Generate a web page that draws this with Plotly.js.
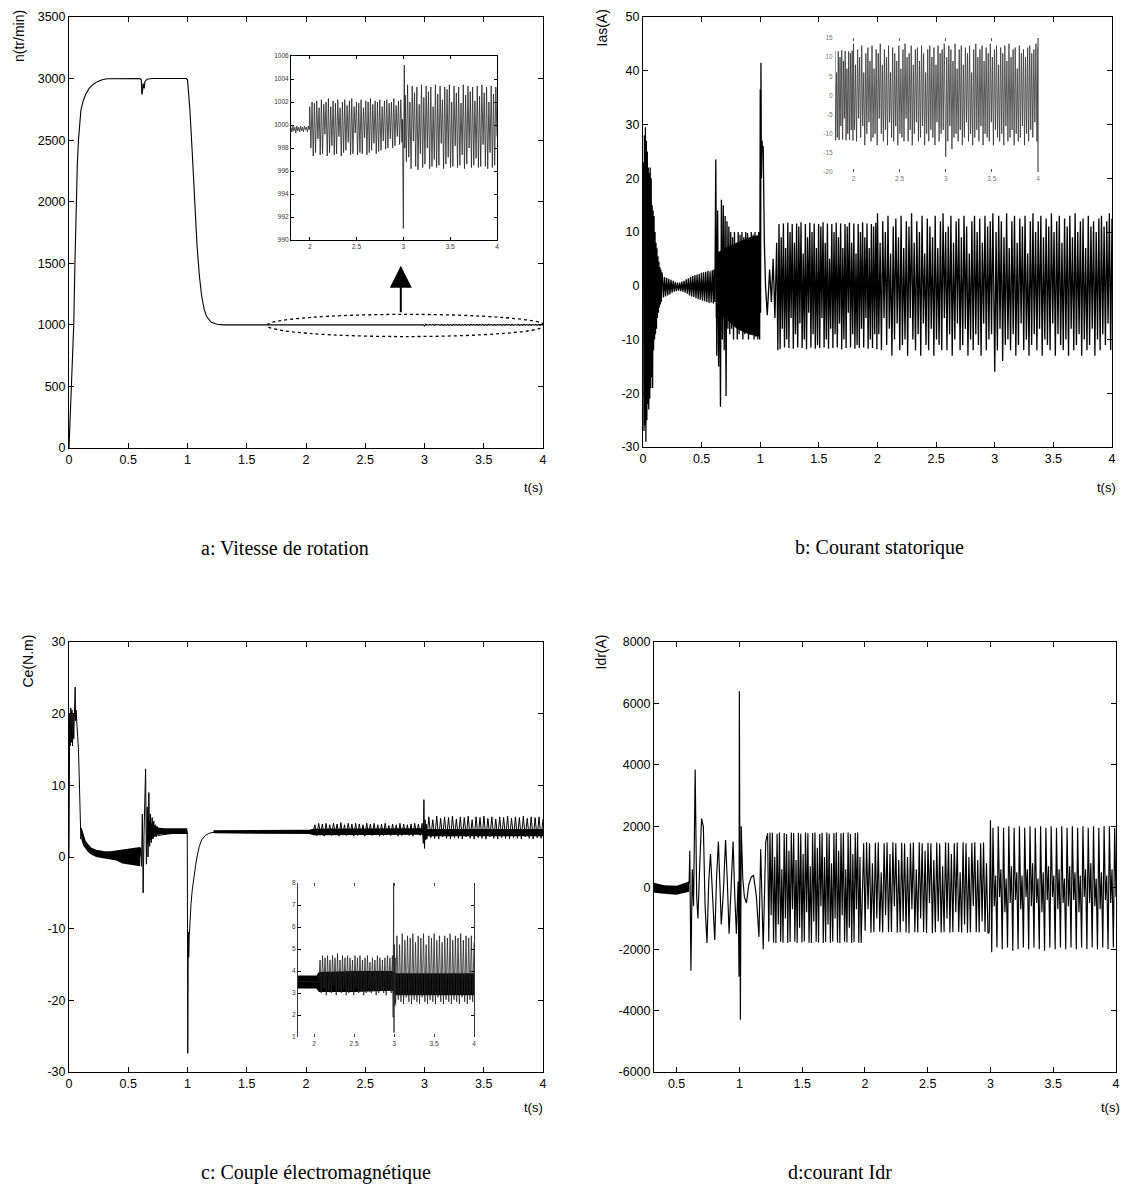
<!DOCTYPE html>
<html><head><meta charset="utf-8">
<script src="https://cdn.plot.ly/plotly-3.0.1.min.js"></script>
<style>html,body{margin:0;padding:0;background:#fff}#c{width:1130px;height:1187px}</style>
</head><body><div id="c"></div>
<script>
// ---------- Panel a : speed n (tr/min) ----------
const A_T = [0,0.005,0.01,0.02,0.03,0.04,0.05,0.06,0.07,0.08,0.09,0.1,0.12,0.14,0.17,0.2,0.24,0.28,0.32,0.6,0.61,0.615,0.62,0.625,0.63,0.635,0.64,0.65,0.66,0.7,0.99,1.0,1.02,1.04,1.06,1.08,1.1,1.12,1.14,1.16,1.2,1.25,1.3];
const A_V = [0,100,250,500,750,1000,1500,2000,2300,2500,2650,2740,2820,2870,2920,2950,2975,2990,2998,3000,2990,2870,2890,2960,2930,2920,2975,2985,2995,3000,3000,2990,2750,2400,2000,1650,1400,1230,1130,1070,1020,1005,1000];
const A_FINE1 = [999.8,999.4,999.9,999.5,999.8,999.3,999.9,999.5,999.8,999.4,999.9,999.5,999.8,999.4,999.9,999.6,999.8,999.4,999.9,999.6];
const A_FINE2 = [1001.6,998.0,1002.0,997.3,1001.9,997.6,1002.1,998.8,1001.5,997.4,1002.2,997.5,1001.8,999.2,1002.0,997.3,1002.3,997.6,1001.6,998.2,1002.1,997.4,1001.9,997.5,1002.2,999.0,1001.5,997.3,1002.0,997.6,1002.2,997.8,1001.7,998.5,1002.1,997.4,1002.3,997.5,1001.6,999.3,1002.0,997.4,1001.9,997.6,1002.2,997.5,1001.5,998.9,1002.1,997.4,1002.0,997.6,1002.3,997.8,1001.8,998.4,1002.1,997.5,1002.0,997.7,1002.2,997.8,1001.6,998.6,1002.1,997.9,1002.2,998.0,1001.9,998.8,1002.0,998.0,1002.3,998.2,1001.7,999.0,1002.1,998.3,1002.2,998.5];
const A_JUMP_T = [2.99,3.0,3.005,3.01,3.015];
const A_JUMP_V = [1000.5,991,1000,1005.2,998];
const A_FINE3 = [1002.6,996.8,1003.5,997.2,1002.0,996.2,1003.4,998.6,1002.8,996.4,1003.3,996.1,1001.8,997.5,1003.5,996.3,1002.4,996.6,1003.4,998.0,1002.9,996.2,1003.3,996.4,1001.6,997.0,1003.5,996.3,1002.7,996.5,1003.4,998.4,1002.2,996.2,1003.3,996.6,1003.1,997.2,1003.5,996.3,1002.0,996.4,1003.4,998.2,1002.8,996.3,1003.3,996.5,1001.9,997.4,1003.5,996.2,1002.6,996.6,1003.4,998.0,1002.9,996.3,1003.3,996.5,1002.1,997.1,1003.4,996.3,1002.5,996.4,1003.5,998.3,1002.8,996.4,1003.3,996.2,1002.0,997.6,1003.4,996.3,1002.7,996.5,1003.3,999.0];

// ---------- Panel b : stator current Ias (A) ----------
const B_START = [0,23,-27,28,-26,29.5,-29,27,-25,25,-22,22,-23,21,-21,22,-19,20,-17,15,-19,14,-12,13,-10,10,-9,8,-8,7,-6,5.5,-5,4.5,-4,3.5,-3.5,3,-3,2.5];
const B_LOW = [2,-2.2,1.6,-2,1.5,-1.8,1.3,-1.6,1.1,-1.3,0.9,-1.1,0.7,-1,0.6,-0.9,0.6,-1,0.8,-1.1,0.9,-1.3,1.2,-1.5,1.4,-1.8,1.6,-2,1.8,-2.1,2,-2.3,2.1,-2.5,2.2,-2.6,2.4,-2.8,2.5,-2.9,2.6,-3,2.8,-3.2,2.7,-3.1,2.9,-3.3];
const B_MID = [3,-3,23.5,-13,14,-15,5,-22.5,16,-10,15,-12,13,-20.5,12,-8,11,-9,10,-8,9,-10,10,-7,8,-10,10,-9,9.5,-8,10,-10,9,-9,10,-8,9.8,-10,8,-9,10,-9,9.5,-10,10,-9.5,9,-10,10,-10];
const B_BAND_T = [0.62,0.7,0.8,0.9,0.995];
const B_BAND_HI = [6,7,8,9,9.5];
const B_BAND_LO = [-6,-6,-8,-9,-9.5];
const B_JUMP_T = [1.0,1.003,1.006,1.01,1.015,1.02,1.025,1.03,1.035,1.045,1.06,1.08,1.095,1.11,1.125,1.14,1.15];
const B_JUMP_V = [36.5,-5,41.5,20,27,25,26,12,8,0,-5.5,3,-3,5,-6,8,-12];
const B_R = [11.5,-11.8,9,-8,11.6,-11.5,7,-10,11.7,-11.6,10,-6,11.5,-11.7,8,-9,11.6,-11.5,11,-7,11.8,-11.6,6,-10,11.5,-11.8,9,-5,11.7,-11.5,10,-9,11.6,-11.7,7,-11,11.5,-11.6,11,-6,11.8,-11.5,8,-10,11.6,-11.7,5,-8,11.5,-11.6,10,-9,11.7,-11.5,9,-7,11.6,-11.8,7,-10,11.5,-11.6,11,-5,11.7,-11.5,8,-9,11.6,-11.7,6,-11,11.5,-11.6,10,-8,11.8,-11.5,9,-6,11.6,-11.7,7,-10,11.5,-11.6,11,-9,11.7,-11.8];
const B_L1 = [13.5,-9,8,-12,12,-6,10,-11,13,-8,6,-13,11,-10,12.5,-7,9,-12,13,-11,7,-10,12,-13,11,-6,13.5,-10,8,-12,12,-9,10,-13,13,-7,6,-11,12.5,-12,11,-8,9,-13,13,-10,7,-11,12,-12,13.5,-6,10,-12,11,-9,13,-13,8,-10,12,-7,12.5,-12,9,-11,13,-8,11,-13,6,-10,12,-12,13,-9,10,-11,12.5,-13,8,-7,13,-12,11,-10,12,-9,13.5,-14];
const B_L2 = [-16,10,-12,13,-8,12,-14,9,-11,13.5,-10,7,-12,12,-9,13,-13,8,-11,12.5,-7,11,-12,13,-10,6,-13,12,-11,13.5,-9,10,-12,12,-8,13,-13,9,-10,12.5,-11,11,-12,13.5,-7,10,-13,12,-9,13,-11,8,-12,12.5,-10,11,-13,13,-8,9,-12,13.5,-11,10,-9,12,-13,12.5,-10,7,-12,13,-11,11,-8,12,-13,10,-10,12.5,-12,13,-9,11,-11,12,-7,13.5,-12,12.5];

// ---------- Panel c : torque Ce (N.m) ----------
const C_T0 = [0,0.003,0.006,0.01,0.015,0.02,0.025,0.03,0.035,0.04,0.045,0.052,0.056,0.06,0.065,0.07,0.075,0.08,0.085,0.09,0.095,0.1,0.105,0.11,0.12,0.14,0.17,0.2,0.25,0.3,0.4,0.5,0.6];
const C_V0 = [0,5,20,15.5,20.8,16,20.5,15.5,20,16.5,21,23.7,19,20.5,19,18,16.5,15,12,8,4.5,2.5,4,3,2.4,1.7,1.1,0.7,0.4,0.3,0.2,0.1,0.05];
const C_BAND1_T = [0.105,0.12,0.14,0.16,0.19,0.23,0.3,0.35,0.4,0.45,0.5,0.55,0.6];
const C_BAND1_HI = [4.2,3.2,2.3,1.8,1.3,1.0,0.8,0.8,0.9,1.0,1.1,1.25,1.4];
const C_BAND1_LO = [2.4,1.6,1.1,0.7,0.3,0.0,-0.2,-0.3,-0.5,-0.9,-1.0,-1.15,-1.3];
const C_M = [1.3,-1.3,6,-5,3,7,12.3,-1,7,0,9,1.5,6,2,5.5,2.5,5,3,4.5,2.8,4.3,3];
const C_BAND2_T = [0.66,0.7,0.75,0.8,0.998];
const C_BAND2_HI = [5.5,4.6,4.1,4.0,4.0];
const C_BAND2_LO = [1.8,2.6,3.1,3.2,3.2];
const C_T1 = [0.998,1.0,1.002,1.004,1.006,1.008,1.01,1.015,1.02,1.025,1.03,1.04,1.05,1.06,1.07,1.08,1.09,1.1,1.12,1.15,1.18,1.22,1.26,1.3];
const C_V1 = [3.6,-10,-27.4,-16.7,-13,-10.5,-14,-11,-9,-8,-6.5,-4.6,-3.2,-2,-1,0,0.8,1.5,2.4,3.0,3.3,3.5,3.6,3.6];
const C_BAND3_T = [1.22,1.5,1.8,2.03,2.06,2.5,2.98,3.02,3.5,4.0];
const C_BAND3_HI = [3.75,3.8,3.8,3.8,3.95,4.0,4.0,3.9,3.9,3.9];
const C_BAND3_LO = [3.3,3.25,3.2,3.2,3.05,3.05,3.1,2.9,2.9,2.9];
const C_S1 = [3.5,4.5,3.0,4.7,3.2,4.6,2.9,4.7,3.1,4.5,3.0,4.7,3.3,4.6,2.9,4.8,3.1,4.5,3.0,4.7,3.2,4.6,2.9,4.7,3.0,4.6,3.1,4.5,2.9,4.7,3.2,4.6,3.0,4.7,3.1,4.5,2.9,4.6,3.0,4.7,3.2,4.4,3.0,4.6,3.1,4.5,2.9,4.7,3.0,4.6,3.1,4.5,3.0,4.6,2.9,4.7,3.2,4.6,3.0,4.7];
const C_JUMP_T = [2.985,2.99,2.995,3.0,3.005,3.01,3.015];
const C_JUMP_V = [3.4,1.9,8,1.2,5.2,2.4,4.6];
const C_S2 = [2.5,5.6,2.7,5.2,2.6,5.7,2.5,5.4,2.8,5.6,2.6,5.5,2.5,5.7,2.7,5.3,2.6,5.6,2.5,5.5,2.8,5.7,2.6,5.2,2.5,5.6,2.7,5.5,2.6,5.7,2.5,5.4,2.8,5.6,2.6,5.3,2.5,5.6,2.7,5.5,2.6,5.7,2.5,5.4,2.7,5.6,2.6,5.5,2.5,5.7,2.8,5.4,2.6,5.6,2.5,5.5,2.7,5.6,2.6,5.3];

// ---------- Panel d : rotor current Idr (A) ----------
const D_BAND_T = [0.32,0.4,0.5,0.6];
const D_BAND_HI = [160,80,60,200];
const D_BAND_LO = [-160,-200,-230,-130];
const D_T0 = [0.6,0.605,0.614,0.625,0.635,0.648,0.66,0.67,0.685,0.699,0.713,0.727,0.742,0.756,0.77,0.787,0.804,0.818,0.833,0.845,0.856,0.873,0.89,0.904,0.918,0.934,0.95,0.963,0.976,0.99,0.997,1.0,1.003,1.008,1.015,1.027,1.04,1.056,1.075,1.095,1.113,1.136,1.156,1.17,1.19,1.21];
const D_V0 = [150,1200,-2700,600,-600,3850,-300,-1000,800,2250,2000,-600,-1800,200,1100,-400,-1700,300,1500,100,-1200,-100,1550,200,-1500,0,1500,-200,-1500,200,-2900,6400,-800,-4300,2000,300,-300,-500,100,350,400,-300,-1600,1250,-2000,1500];
const D_R1 = [1780,-1750,1800,-900,1790,-1780,1000,-1800,1760,-1200,1800,-1760,600,-1790,1780,-1000,1750,-1800,1200,-1770,1800,-700,1780,-1760,900,-1800,1790,-1300,1760,-1780,1100,-1750,1800,-800,1770,-1790,700,-1800,1780,-1100,1800,-1760,1300,-1780,1750,-600,1790,-1800,1000,-1770,1800,-1200,1760,-1790,800,-1750,1780,-1000,1800,-1780,1200,-1800,1770,-900,1790,-1760,600,-1780,1800,-1300,1750,-1800,1100,-1770,1780,-700,1800,-1790,1000,-1800];
const D_R2 = [1450,-1400,1480,-700,1450,-1470,800,-1450,1460,-1000,1480,-1430,500,-1460,1450,-900,1470,-1450,1100,-1440,1480,-600,1450,-1470,900,-1450,1460,-1100,1440,-1460,1000,-1480,1450,-700,1470,-1450,600,-1460,1480,-1000,1450,-1440,1200,-1470,1460,-500,1450,-1480,900,-1450,1470,-1100,1440,-1460,700,-1450,1480,-1000,1460,-1470,1100,-1450,1450,-800,1470,-1440,500,-1460,1480,-1200,1450,-1470,1000,-1450,1460,-600,1480,-1450,900,-1460,1450,-1100,1470,-1440,800,-1480];
const D_JUMP_T = [2.99,3.0,3.01];
const D_JUMP_V = [-1450,2200,-2100];
const D_R3 = [1950,-600,400,-1950,2000,-300,600,-2000,1950,-800,300,-1950,2000,-500,700,-2050,1950,-400,500,-2000,2000,-700,400,-1950,1950,-300,600,-2000,2000,-600,800,-1950,1950,-500,300,-2000,2000,-800,500,-2050,1950,-400,700,-1950,2000,-300,400,-2000,1950,-700,600,-1950,2000,-500,300,-2000,1950,-600,700,-1950,2000,-400,500,-2000,1950,-800,400,-1950,2000,-300,600,-2000,1950,-500,800,-1950,2000,-600,300,-2000,1950,-700,500,-1950,2000,-400,400,-2000,2000,-500,600,-1950,1950,-300];

// ---------- tick values / labels ----------
const X_TICKS = [0,0.5,1,1.5,2,2.5,3,3.5,4];
const XD_TICKS = [0.5,1,1.5,2,2.5,3,3.5,4];
const IN_X_TICKS = [2,2.5,3,3.5,4];
const YA_TICKS = [0,500,1000,1500,2000,2500,3000,3500];
const YB_TICKS = [-30,-20,-10,0,10,20,30,40,50];
const YB_LABELS = ['-30','-20','-10','0','10','20','30','40','50'];
const YC_TICKS = [-30,-20,-10,0,10,20,30];
const YC_LABELS = ['-30','-20','-10','0','10','20','30'];
const YD_TICKS = [-6000,-4000,-2000,0,2000,4000,6000,8000];
const YD_LABELS = ['-6000','-4000','-2000','0','2000','4000','6000','8000'];
const YIA_TICKS = [990,992,994,996,998,1000,1002,1004,1006];
const YIB_TICKS = [-20,-15,-10,-5,0,5,10,15];
const YIB_LABELS = ['-20','-15','-10','-5','0','5','10','15'];
const YIC_TICKS = [1,2,3,4,5,6,7,8];

// ---------- helpers ----------
const W = 1130, H = 1187;
const px = x => x / W, py = y => 1 - y / H;
function seg(t0, t1, vals) { const n = vals.length; return vals.map((v, i) => t0 + (t1 - t0) * i / (n - 1)); }
function join(parts) { const x = [], y = []; parts.forEach(p => { x.push(...p[0]); y.push(...p[1]); }); return {x, y}; }
function band(t, hi, lo) { return {x: t.concat(t.slice().reverse()), y: hi.concat(lo.slice().reverse())}; }

const aS = join([[A_T, A_V], [seg(1.8, 1.995, A_FINE1), A_FINE1], [seg(2.0, 2.985, A_FINE2), A_FINE2], [A_JUMP_T, A_JUMP_V], [seg(3.02, 4.0, A_FINE3), A_FINE3]]);
const bS = join([[seg(0, 0.16, B_START), B_START], [seg(0.165, 0.6, B_LOW), B_LOW], [seg(0.605, 0.995, B_MID), B_MID], [B_JUMP_T, B_JUMP_V], [seg(1.16, 1.995, B_R), B_R], [seg(2.0, 2.995, B_L1), B_L1], [seg(3.0, 4.0, B_L2), B_L2]]);
const bB = band(B_BAND_T, B_BAND_HI, B_BAND_LO);
const cS = join([[C_T0, C_V0], [seg(0.605, 0.75, C_M), C_M], [C_T1, C_V1], [seg(2.06, 2.98, C_S1), C_S1], [C_JUMP_T, C_JUMP_V], [seg(3.02, 4.0, C_S2), C_S2]]);
const cB1 = band(C_BAND1_T, C_BAND1_HI, C_BAND1_LO);
const cB2 = band(C_BAND2_T, C_BAND2_HI, C_BAND2_LO);
const cB3 = band(C_BAND3_T, C_BAND3_HI, C_BAND3_LO);
const dS = join([[D_T0, D_V0], [seg(1.225, 1.97, D_R1), D_R1], [seg(1.99, 2.98, D_R2), D_R2], [D_JUMP_T, D_JUMP_V], [seg(3.02, 4.0, D_R3), D_R3]]);
const dB = band(D_BAND_T, D_BAND_HI, D_BAND_LO);

function line(s, xa, ya, w, col) { return {type: 'scatter', mode: 'lines', x: s.x, y: s.y, xaxis: xa, yaxis: ya, line: {color: col || '#000', width: w || 1}, hoverinfo: 'skip'}; }
function fillT(s, xa, ya) { return {type: 'scatter', mode: 'lines', x: s.x, y: s.y, xaxis: xa, yaxis: ya, fill: 'toself', fillcolor: '#000', line: {width: 0, color: '#000'}, hoverinfo: 'skip'}; }

const data = [
  line(aS, 'x', 'y', 1.1),
  fillT(bB, 'x2', 'y2'), line(bS, 'x2', 'y2', 1.3),
  fillT(cB1, 'x3', 'y3'), fillT(cB2, 'x3', 'y3'), fillT(cB3, 'x3', 'y3'), line(cS, 'x3', 'y3', 1),
  fillT(dB, 'x4', 'y4'), line(dS, 'x4', 'y4', 1.15),
  line(aS, 'x5', 'y5', 0.8, '#222'),
  line(bS, 'x6', 'y6', 0.8, '#333'),
  fillT(cB3, 'x7', 'y7'), line(cS, 'x7', 'y7', 0.8, '#222')
];

const TF = 'Liberation Sans, Arial, sans-serif';
function mainAx(domain, range, extra) {
  return Object.assign({domain: domain, range: range, showline: true, linecolor: '#000', linewidth: 1, mirror: 'ticks', ticks: 'inside', ticklen: 5, tickcolor: '#000', showgrid: false, zeroline: false, fixedrange: true, tickfont: {family: TF, size: 12.5, color: '#000'}}, extra || {});
}
function inAx(domain, range, extra) {
  return Object.assign({domain: domain, range: range, showline: true, linecolor: '#000', linewidth: 1, mirror: 'ticks', ticks: 'inside', ticklen: 3, tickcolor: '#000', showgrid: false, zeroline: false, fixedrange: true, tickfont: {family: TF, size: 6.5, color: '#333'}}, extra || {});
}
const dx = (a, b) => [px(a), px(b)], dy = (t, b) => [py(b), py(t)];
const labF = {family: TF, size: 14, color: '#000'};
const tF = {family: TF, size: 13, color: '#000'};
const subF = {family: 'Liberation Serif, Times New Roman, serif', size: 20, color: '#000'};
function ann(x, y, text, font, extra) { return Object.assign({xref: 'paper', yref: 'paper', x: px(x), y: py(y), text: text, showarrow: false, xanchor: 'center', yanchor: 'middle', font: font}, extra || {}); }

const layout = {
  width: W, height: H, margin: {l: 0, r: 0, t: 0, b: 0}, showlegend: false,
  paper_bgcolor: '#fff', plot_bgcolor: 'rgba(0,0,0,0)', hovermode: false,
  xaxis: mainAx(dx(69, 543), [0, 4], {anchor: 'y', tickvals: X_TICKS}),
  yaxis: mainAx(dy(17, 448), [0, 3500], {anchor: 'x', tickvals: YA_TICKS}),
  xaxis2: mainAx(dx(643, 1112), [0, 4], {anchor: 'y2', tickvals: X_TICKS}),
  yaxis2: mainAx(dy(17, 447), [-30, 50], {anchor: 'x2', tickvals: YB_TICKS, ticktext: YB_LABELS}),
  xaxis3: mainAx(dx(69, 543), [0, 4], {anchor: 'y3', tickvals: X_TICKS}),
  yaxis3: mainAx(dy(642, 1072), [-30, 30], {anchor: 'x3', tickvals: YC_TICKS, ticktext: YC_LABELS}),
  xaxis4: mainAx(dx(654, 1116), [0.32, 4], {anchor: 'y4', tickvals: XD_TICKS}),
  yaxis4: mainAx(dy(642, 1072), [-6000, 8000], {anchor: 'x4', tickvals: YD_TICKS, ticktext: YD_LABELS}),
  xaxis5: inAx(dx(291, 497), [1.8, 4], {anchor: 'y5', tickvals: IN_X_TICKS}),
  yaxis5: inAx(dy(56, 240), [990, 1006], {anchor: 'x5', tickvals: YIA_TICKS}),
  xaxis6: inAx(dx(835, 1038), [1.8, 4], {anchor: 'y6', tickvals: IN_X_TICKS, linecolor: 'rgba(0,0,0,0)', tickcolor: '#555', tickfont: {family: TF, size: 6.5, color: '#777'}}),
  yaxis6: inAx(dy(38, 172), [-20, 15], {anchor: 'x6', tickvals: YIB_TICKS, ticktext: YIB_LABELS, linecolor: 'rgba(0,0,0,0)', ticks: '', mirror: false, tickfont: {family: TF, size: 6.5, color: '#777'}}),
  xaxis7: inAx(dx(298, 474), [1.8, 4], {anchor: 'y7', tickvals: IN_X_TICKS, linecolor: 'rgba(0,0,0,0)', tickcolor: '#444'}),
  yaxis7: inAx(dy(883, 1037), [1, 8], {anchor: 'x7', tickvals: YIC_TICKS, linecolor: '#333'}),
  shapes: [
    {type: 'circle', xref: 'x', yref: 'y', x0: 1.67, x1: 4.02, y0: 905, y1: 1085, line: {color: '#000', width: 1.3, dash: 'dot'}},
    {type: 'line', xref: 'x6 domain', yref: 'y6 domain', x0: 1, x1: 1, y0: 0, y1: 1, line: {color: '#222', width: 1}}
  ],
  annotations: [
    {xref: 'x', yref: 'y', axref: 'x', ayref: 'y', x: 2.8, y: 1480, ax: 2.8, ay: 1090, text: '', showarrow: true, arrowhead: 2, arrowsize: 2.2, arrowwidth: 2, arrowcolor: '#000'},
    ann(19, 8, 'n(tr/min)', labF, {textangle: -90, yanchor: 'top'}),
    ann(601, 8, 'Ias(A)', labF, {textangle: -90, yanchor: 'top'}),
    ann(27, 633, 'Ce(N.m)', labF, {textangle: -90, yanchor: 'top'}),
    ann(600, 633, 'Idr(A)', labF, {textangle: -90, yanchor: 'top'}),
    ann(533, 487, 't(s)', tF),
    ann(1106, 487, 't(s)', tF),
    ann(533, 1107, 't(s)', tF),
    ann(1110, 1107, 't(s)', tF),
    ann(285, 548, 'a: Vitesse de rotation', subF),
    ann(879, 548, 'b: Courant statorique', subF),
    ann(316, 1172, 'c: Couple électromagnétique', subF),
    ann(840, 1172, 'd:courant Idr', subF)
  ]
};

Plotly.newPlot('c', data, layout, {staticPlot: true, displayModeBar: false});
</script></body></html>
